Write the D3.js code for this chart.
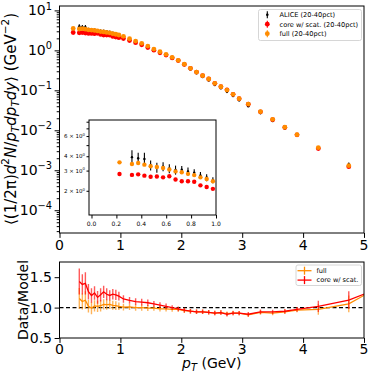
<!DOCTYPE html>
<html>
<head>
<meta charset="utf-8">
<script src="https://cdn.jsdelivr.net/npm/d3@7"></script>
<style>
  body { margin: 0; background: #fff; }
  text { font-family: "DejaVu Sans", sans-serif; fill: #000; }
</style>
</head>
<body>
<svg id="chart" width="374" height="377"></svg>
<script>
// ALICE pion spectrum, 20-40%
const pt = [0.325,0.375,0.425,0.475,0.525,0.575,0.625,0.675,0.725,0.775,0.825,0.875,0.925,0.975,
  1.05,1.15,1.25,1.35,1.45,1.55,1.65,1.75,1.85,1.95,
  2.05,2.15,2.25,2.35,2.45,2.55,2.65,2.75,2.85,2.95,
  3.1,3.3,3.5,3.7,3.9,4.25,4.75,5.5];
const alice = [3.93,3.84,3.79,3.34,3.19,3.25,3.13,3.04,3.05,2.95,2.88,2.72,2.61,2.47,
  2.26,1.97,1.71,1.50,1.27,1.07,0.905,0.778,0.648,0.545,
  0.428,0.334,0.267,0.216,0.177,0.1365,0.113,0.0915,0.0723,0.0561,
  0.0400,0.0269,0.0171,0.01107,0.00745,0.00356,0.00138,0.000518];
const aliceRelErr = [0.15,0.12,0.13,0.10,0.10,0.09,0.09,0.09,0.08,0.08,0.07,0.07,0.07,0.06,
  0.055,0.05,0.05,0.05,0.05,0.045,0.045,0.045,0.04,0.04,
  0.04,0.04,0.04,0.04,0.04,0.04,0.04,0.04,0.04,0.04,
  0.04,0.04,0.04,0.04,0.04,0.09,0.13,0.15];

// model curves (one extra low-pT point)
const modelPt = [0.225,0.325,0.375,0.425,0.475,0.525,0.575,0.625,0.675,0.725,0.775,0.825,0.875,0.925,0.975,
  1.05,1.15,1.25,1.35,1.45,1.55,1.65,1.75,1.85,1.95,
  2.05,2.15,2.25,2.35,2.45,2.55,2.65,2.75,2.85,2.95,
  3.1,3.3,3.5,3.7,3.9,4.25,4.75,5.5];
const fullModel = [3.54,3.42,3.49,3.38,3.27,3.22,3.16,3.07,2.95,2.90,2.81,2.74,2.62,2.53,2.42,
  2.24,1.95,1.71,1.50,1.28,1.08,0.923,0.794,0.668,0.562,
  0.45,0.355,0.287,0.232,0.192,0.150,0.123,0.1017,0.0794,0.0617,
  0.0454,0.0292,0.0188,0.0119,0.00776,0.00367,0.0013,0.00035];
const coreModel = [2.80,2.75,2.78,2.71,2.65,2.66,2.62,2.68,2.51,2.42,2.42,2.40,2.23,2.16,2.08,
  1.98,1.76,1.555,1.376,1.176,1.009,0.870,0.763,0.648,0.556,
  0.446,0.355,0.287,0.232,0.192,0.150,0.123,0.1028,0.0795,0.0617,
  0.0449,0.0289,0.0184,0.01178,0.00768,0.00349,0.00123,0.000365];

const xTicks = [0,1,2,3,4,5];
const yDecades = [-4,-3,-2,-1,0,1];
const ratioTicks = [0.5,1.0,1.5];
const insetXTicks = [0,0.2,0.4,0.6,0.8,1.0];
const insetYLabelled = [2,3,4,6];

const ORANGE = "#ff8c00", RED = "#ff0000";

const svg = d3.select("#chart");

const main = {l: 59.5, r: 364, t: 6, b: 233};
const rat = {l: 59.5, r: 364, t: 262, b: 338};
const ins = {l: 89, r: 216, t: 120, b: 215};

const x = d3.scaleLinear().domain([0, 5]).range([main.l, main.r]);
const y = d3.scaleLog().domain([Math.pow(10, -4.57), Math.pow(10, 1.11)]).range([main.b, main.t]);
const yr = d3.scaleLinear().domain([0.5, 1.75]).range([rat.b, rat.t]);
const xi = d3.scaleLinear().domain([-0.02, 1.0]).range([ins.l, ins.r]);
const yi = d3.scaleLog().domain([1.23, 8.28]).range([ins.b, ins.t]);

// text with super/subscripts, parts: [str, "sup"|"sub"|"", italic]
function rich(sel, parts, size) {
  let shift = 0;
  parts.forEach(p => {
    const ts = sel.append("tspan").text(p[0]);
    let target = p[1] === "sup" ? -0.42 * size : p[1] === "sub" ? 0.22 * size : 0;
    ts.attr("dy", target - shift);
    shift = target;
    if (p[1]) ts.attr("font-size", size * 0.7);
    if (p[2]) ts.attr("font-style", "italic");
  });
  return sel;
}

function clip(id, b) {
  svg.append("clipPath").attr("id", id).append("rect")
    .attr("x", b.l).attr("y", b.t).attr("width", b.r - b.l).attr("height", b.b - b.t);
}
clip("clipMain", main);
clip("clipRat", rat);
clip("clipIns", ins);

// ---------- main panel ----------
const gMain = svg.append("g");
const gm = gMain.append("g").attr("clip-path", "url(#clipMain)");

gm.selectAll(".aerr").data(pt).enter().append("line")
  .attr("x1", d => x(d)).attr("x2", d => x(d))
  .attr("y1", (d, i) => y(alice[i] * (1 + aliceRelErr[i])))
  .attr("y2", (d, i) => y(alice[i] * (1 - aliceRelErr[i])))
  .attr("stroke", "#000").attr("stroke-width", 1.1);
gm.selectAll(".adot").data(pt).enter().append("circle")
  .attr("cx", d => x(d)).attr("cy", (d, i) => y(alice[i])).attr("r", 1.3).attr("fill", "#000");
gm.selectAll(".core").data(modelPt).enter().append("circle")
  .attr("cx", d => x(d)).attr("cy", (d, i) => y(coreModel[i])).attr("r", 2.4).attr("fill", RED);
gm.selectAll(".full").data(modelPt).enter().append("circle")
  .attr("cx", d => x(d)).attr("cy", (d, i) => y(fullModel[i])).attr("r", 2.4).attr("fill", ORANGE);

// axes main
const minorVals = [];
for (let d = -5; d <= 1; d++) for (let k = 2; k <= 9; k++) {
  const v = k * Math.pow(10, d);
  if (v >= y.domain()[0] && v <= y.domain()[1]) minorVals.push(v);
}
gMain.append("g").attr("transform", `translate(${main.l},0)`)
  .call(d3.axisLeft(y).tickValues(minorVals).tickSize(2.8).tickFormat(""))
  .call(g => g.select(".domain").remove());
gMain.append("g").attr("transform", `translate(${main.l},0)`)
  .call(d3.axisLeft(y).tickValues(yDecades.map(d => Math.pow(10, d))).tickSize(4.9).tickFormat(""))
  .call(g => g.select(".domain").remove());
yDecades.forEach(d => {
  const t = gMain.append("text").attr("x", 52).attr("y", y(Math.pow(10, d)) + 5)
    .attr("text-anchor", "end").attr("font-size", 14);
  rich(t, [["10", "", false], [d < 0 ? "\u2212" + (-d) : String(d), "sup", false]], 14);
});
gMain.append("g").attr("transform", `translate(0,${main.b})`)
  .call(d3.axisBottom(x).tickValues(xTicks).tickSize(4.9).tickFormat(""))
  .call(g => g.select(".domain").remove());
xTicks.forEach(v => gMain.append("text").attr("x", x(v)).attr("y", 250)
  .attr("text-anchor", "middle").attr("font-size", 14).text(v));
gMain.append("rect").attr("x", main.l).attr("y", main.t)
  .attr("width", main.r - main.l).attr("height", main.b - main.t)
  .attr("fill", "none").attr("stroke", "#000").attr("stroke-width", 1);

// y label
const yl = gMain.append("text").attr("transform", `translate(15.5,119) rotate(-90)`)
  .attr("text-anchor", "middle").attr("font-size", 15);
rich(yl, [["\u27e8(1/2\u03c0)", "", false], ["d", "", true], ["2", "sup", false], ["N", "", true],
  ["/", "", false], ["p", "", true], ["T", "sub", true], ["dp", "", true], ["T", "sub", true],
  ["dy", "", true], ["\u27e9 (GeV", "", false], ["\u22122", "sup", false], [")", "", false]], 15);

// legend main
const lg = gMain.append("g");
lg.append("rect").attr("x", 258.5).attr("y", 9.5).attr("width", 103).attr("height", 31).attr("rx", 2)
  .attr("fill", "#fff").attr("stroke", "#ccc").attr("stroke-width", 0.8);
const legItems = [["ALICE (20-40pct)", "#000", 1.3], ["core w/ scat. (20-40pct)", RED, 2.4], ["full (20-40pct)", ORANGE, 2.4]];
legItems.forEach((it, i) => {
  const ly = 14.7 + i * 9.5;
  lg.append("line").attr("x1", 267.3).attr("x2", 267.3).attr("y1", ly - 3.5).attr("y2", ly + 3.5)
    .attr("stroke", it[1]).attr("stroke-width", 1.1);
  lg.append("circle").attr("cx", 267.3).attr("cy", ly).attr("r", it[2]).attr("fill", it[1]);
  lg.append("text").attr("x", 279.5).attr("y", ly + 2.3).attr("font-size", 6.6).text(it[0]);
});

// ---------- inset ----------
const gIns = svg.append("g");
gIns.append("rect").attr("x", ins.l).attr("y", ins.t).attr("width", ins.r - ins.l).attr("height", ins.b - ins.t)
  .attr("fill", "#fff");
const gi = gIns.append("g").attr("clip-path", "url(#clipIns)");
gi.selectAll(".aerr").data(pt).enter().append("line")
  .attr("x1", d => xi(d)).attr("x2", d => xi(d))
  .attr("y1", (d, i) => yi(alice[i] * (1 + aliceRelErr[i])))
  .attr("y2", (d, i) => yi(alice[i] * (1 - aliceRelErr[i])))
  .attr("stroke", "#000").attr("stroke-width", 1.1);
gi.selectAll(".adot").data(pt).enter().append("circle")
  .attr("cx", d => xi(d)).attr("cy", (d, i) => yi(alice[i])).attr("r", 1.2).attr("fill", "#000");
gi.selectAll(".core").data(modelPt).enter().append("circle")
  .attr("cx", d => xi(d)).attr("cy", (d, i) => yi(coreModel[i])).attr("r", 2.2).attr("fill", RED);
gi.selectAll(".full").data(modelPt).enter().append("circle")
  .attr("cx", d => xi(d)).attr("cy", (d, i) => yi(fullModel[i])).attr("r", 2.2).attr("fill", ORANGE);

gIns.append("g").attr("transform", `translate(0,${ins.b})`)
  .call(d3.axisBottom(xi).tickValues(insetXTicks).tickSize(3.5).tickFormat(""))
  .call(g => g.select(".domain").remove());
insetXTicks.forEach(v => gIns.append("text").attr("x", xi(v)).attr("y", ins.b + 10.5)
  .attr("text-anchor", "middle").attr("font-size", 6).text(v.toFixed(1)));
gIns.append("g").attr("transform", `translate(${ins.l},0)`)
  .call(d3.axisLeft(yi).tickValues([2,3,4,5,6,7,8]).tickSize(2.5).tickFormat(""))
  .call(g => g.select(".domain").remove());
insetYLabelled.forEach(v => {
  const t = gIns.append("text").attr("x", ins.l - 4).attr("y", yi(v) + 2.2)
    .attr("text-anchor", "end").attr("font-size", 5.5);
  rich(t, [[v + " \u00d7 10", "", false], ["0", "sup", false]], 5.5);
});
gIns.append("rect").attr("x", ins.l).attr("y", ins.t).attr("width", ins.r - ins.l).attr("height", ins.b - ins.t)
  .attr("fill", "none").attr("stroke", "#000").attr("stroke-width", 1);

// ---------- ratio panel ----------
const gRat = svg.append("g");
const gr = gRat.append("g").attr("clip-path", "url(#clipRat)");
gr.append("line").attr("x1", rat.l).attr("x2", rat.r).attr("y1", yr(1)).attr("y2", yr(1))
  .attr("stroke", "#000").attr("stroke-width", 1.1).attr("stroke-dasharray", "4,2.5");

function ratioSeries(model, color) {
  const r = pt.map((p, i) => alice[i] / model[i + 1]);
  const e = pt.map((p, i) => alice[i] * aliceRelErr[i] / model[i + 1]);
  gr.append("g").selectAll("line").data(pt).enter().append("line")
    .attr("x1", d => x(d)).attr("x2", d => x(d))
    .attr("y1", (d, i) => yr(r[i] + e[i])).attr("y2", (d, i) => yr(r[i] - e[i]))
    .attr("stroke", color).attr("stroke-width", 1.4).attr("stroke-opacity", 0.65);
  gr.append("path").datum(pt)
    .attr("d", d3.line().x(d => x(d)).y((d, i) => yr(r[i])))
    .attr("fill", "none").attr("stroke", color).attr("stroke-width", 1.3);
}
ratioSeries(fullModel, ORANGE);
ratioSeries(coreModel, RED);

gRat.append("g").attr("transform", `translate(${rat.l},0)`)
  .call(d3.axisLeft(yr).tickValues(ratioTicks).tickSize(4.9).tickFormat(""))
  .call(g => g.select(".domain").remove());
ratioTicks.forEach(v => gRat.append("text").attr("x", 52).attr("y", yr(v) + 5)
  .attr("text-anchor", "end").attr("font-size", 14).text(v.toFixed(1)));
gRat.append("g").attr("transform", `translate(0,${rat.b})`)
  .call(d3.axisBottom(x).tickValues(xTicks).tickSize(4.9).tickFormat(""))
  .call(g => g.select(".domain").remove());
xTicks.forEach(v => gRat.append("text").attr("x", x(v)).attr("y", 354)
  .attr("text-anchor", "middle").attr("font-size", 14).text(v));
gRat.append("rect").attr("x", rat.l).attr("y", rat.t).attr("width", rat.r - rat.l).attr("height", rat.b - rat.t)
  .attr("fill", "none").attr("stroke", "#000").attr("stroke-width", 1);

gRat.append("text").attr("transform", `translate(28,${(rat.t + rat.b) / 2}) rotate(-90)`)
  .attr("text-anchor", "middle").attr("font-size", 14).text("Data/Model");
const xl = gRat.append("text").attr("x", (rat.l + rat.r) / 2).attr("y", 368)
  .attr("text-anchor", "middle").attr("font-size", 14);
rich(xl, [["p", "", true], ["T", "sub", true], [" (GeV)", "", false]], 14);

// legend ratio
const lr = gRat.append("g");
lr.append("rect").attr("x", 296).attr("y", 265).attr("width", 65.5).attr("height", 20.5).attr("rx", 2)
  .attr("fill", "#fff").attr("stroke", "#ccc").attr("stroke-width", 0.8);
[["full", ORANGE], ["core w/ scat.", RED]].forEach((it, i) => {
  const ly = 270.7 + i * 9.4;
  lr.append("line").attr("x1", 297.5).attr("x2", 311.5).attr("y1", ly).attr("y2", ly)
    .attr("stroke", it[1]).attr("stroke-width", 1.3);
  lr.append("line").attr("x1", 304.5).attr("x2", 304.5).attr("y1", ly - 4).attr("y2", ly + 4)
    .attr("stroke", it[1]).attr("stroke-width", 1.3);
  lr.append("text").attr("x", 316.5).attr("y", ly + 2.3).attr("font-size", 6.6).text(it[0]);
});
</script>
</body>
</html>
